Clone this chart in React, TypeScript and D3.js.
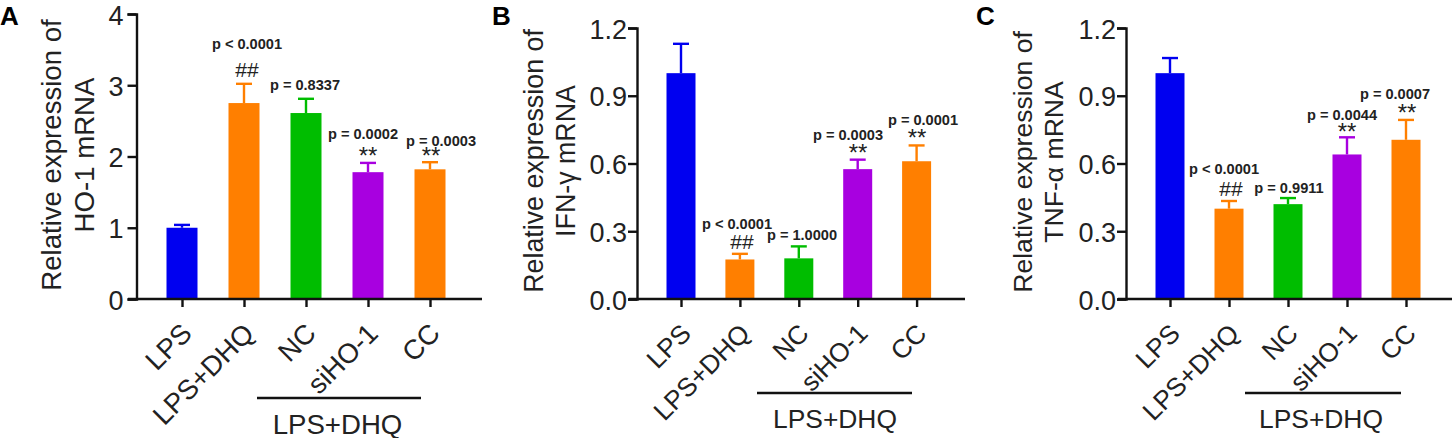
import * as d3 from "d3";
import { useEffect, useRef } from "react";

const groups = ["LPS", "LPS+DHQ", "NC", "siHO-1", "CC"];
const barColors = ["#0000f0", "#ff7f00", "#00bd00", "#a800e0", "#ff7f00"];

const hoValues = [1.0, 2.75, 2.61, 1.78, 1.82];
const hoErrTops = [1.04, 3.02, 2.81, 1.91, 1.92];
const hoTicks = [0, 1, 2, 3, 4];
const hoPvals = ["p < 0.0001", "p = 0.8337", "p = 0.0002", "p = 0.0003"];

const ifnValues = [1.0, 0.175, 0.18, 0.575, 0.61];
const ifnErrTops = [1.13, 0.2, 0.233, 0.617, 0.68];
const ifnTicks = [0, 0.3, 0.6, 0.9, 1.2];
const ifnPvals = ["p < 0.0001", "p = 1.0000", "p = 0.0003", "p = 0.0001"];

const tnfValues = [1.0, 0.4, 0.42, 0.64, 0.705];
const tnfErrTops = [1.067, 0.434, 0.447, 0.716, 0.793];
const tnfTicks = [0, 0.3, 0.6, 0.9, 1.2];
const tnfPvals = ["p < 0.0001", "p = 0.9911", "p = 0.0044", "p = 0.0007"];

const marks = ["##", "**", "**"];

const FONT = "'Liberation Sans', Arial, sans-serif";

const panels = [
  {
    letter: "A", letterX: 0, values: hoValues, tops: hoErrTops, ticks: hoTicks, yMax: 4, fmt: "d",
    title: ["Relative expression of", "HO-1 mRNA"], titleX: [61, 94], titleY: 155, titleFont: 27.6,
    axisX: 136.5, yTop: 14, xStart: 128, xEnd: 482, c0: 182, step: 62, barW: 31,
    tickPad: 4, xFont: 27.5, groupFont: 27.6,
    pvalPos: [[247, 44], [305, 85], [363, 134], [441, 141]],
    markPos: [[247, 70], [368, 152], [431, 152]],
    lineX: [257, 421], lineY: 398, groupX: 337.5, groupY: 424,
  },
  {
    letter: "B", letterX: 492, values: ifnValues, tops: ifnErrTops, ticks: ifnTicks, yMax: 1.2, fmt: ".1f",
    title: ["Relative expression of", "IFN-\u03b3 mRNA"], titleX: [543, 575], titleY: 161, titleFont: 26.8,
    axisX: 637, yTop: 28, xStart: 629, xEnd: 965, c0: 681, step: 58.9, barW: 29,
    tickPad: 1, xFont: 26.2, groupFont: 26.4,
    pvalPos: [[737, 224], [802, 235], [848, 135], [923, 120]],
    markPos: [[742, 242], [858, 149], [917, 134]],
    lineX: [757, 912], lineY: 393, groupX: 835, groupY: 419,
  },
  {
    letter: "C", letterX: 976, values: tnfValues, tops: tnfErrTops, ticks: tnfTicks, yMax: 1.2, fmt: ".1f",
    title: ["Relative expression of", "TNF-\u03b1 mRNA"], titleX: [1032, 1063], titleY: 162, titleFont: 26.6,
    axisX: 1126, yTop: 28, xStart: 1118, xEnd: 1452, c0: 1170, step: 59, barW: 29,
    tickPad: 1, xFont: 26.2, groupFont: 26.4,
    pvalPos: [[1224, 169], [1289, 188], [1342, 115], [1395, 94]],
    markPos: [[1231, 189], [1347, 128], [1407, 109]],
    lineX: [1245, 1401], lineY: 393, groupX: 1321, groupY: 419,
  },
];
const pvalSets = [hoPvals, ifnPvals, tnfPvals];

const Y_BOTTOM = 299;

export default function App() {
  const ref = useRef<SVGSVGElement>(null);

  useEffect(() => {
    const svg = d3.select(ref.current);
    svg.selectAll("*").remove();

    panels.forEach((p, pi) => {
      const g = svg.append("g");
      const y = d3.scaleLinear().domain([0, p.yMax]).range([Y_BOTTOM, p.yTop]);
      const x = d3
        .scalePoint<string>()
        .domain(groups)
        .range([p.c0, p.c0 + p.step * 4]);

      // bars
      g.selectAll("rect.bar")
        .data(p.values)
        .join("rect")
        .attr("class", "bar")
        .attr("x", (_, i) => (x(groups[i]) as number) - p.barW / 2)
        .attr("width", p.barW)
        .attr("y", (d) => y(d))
        .attr("height", (d) => Y_BOTTOM - y(d))
        .attr("fill", (_, i) => barColors[i]);

      // error bars, upper half only
      const err = g.selectAll("g.err").data(p.tops).join("g").attr("class", "err");
      err.append("line")
        .attr("x1", (_, i) => x(groups[i]) as number)
        .attr("x2", (_, i) => x(groups[i]) as number)
        .attr("y1", (_, i) => y(p.values[i]))
        .attr("y2", (d) => y(d))
        .attr("stroke", (_, i) => barColors[i])
        .attr("stroke-width", 2.4);
      err.append("line")
        .attr("x1", (_, i) => (x(groups[i]) as number) - 8)
        .attr("x2", (_, i) => (x(groups[i]) as number) + 8)
        .attr("y1", (d) => y(d))
        .attr("y2", (d) => y(d))
        .attr("stroke", (_, i) => barColors[i])
        .attr("stroke-width", 2.4);

      // y axis
      const yAxis = g
        .append("g")
        .attr("transform", `translate(${p.axisX},0)`)
        .call(
          d3.axisLeft(y)
            .tickValues(p.ticks)
            .tickFormat(d3.format(p.fmt) as any)
            .tickSize(9)
            .tickPadding(p.tickPad)
        );
      yAxis.selectAll("path,line").attr("stroke", "#111").attr("stroke-width", 2.4);
      yAxis.selectAll("text")
        .attr("font-family", FONT)
        .attr("font-size", 27)
        .attr("dy", "0.37em")
        .attr("fill", "#222");

      // x axis
      const xAxis = g
        .append("g")
        .attr("transform", `translate(0,${Y_BOTTOM})`)
        .call(d3.axisBottom(x).tickSize(8));
      xAxis.select("path")
        .attr("d", `M${p.xStart},0H${p.xEnd}`)
        .attr("stroke", "#111")
        .attr("stroke-width", 2.4);
      xAxis.selectAll("line").attr("stroke", "#111").attr("stroke-width", 2.4);
      xAxis.selectAll("text")
        .attr("font-family", FONT)
        .attr("font-size", p.xFont)
        .attr("fill", "#222")
        .attr("text-anchor", "end")
        .attr("dy", 0)
        .attr("y", 0)
        .attr("transform", "translate(4,29) rotate(-45) translate(0,10)");

      // y title
      p.title.forEach((line, i) => {
        g.append("text")
          .attr("transform", `translate(${p.titleX[i]},${p.titleY}) rotate(-90)`)
          .attr("text-anchor", "middle")
          .attr("font-family", FONT)
          .attr("font-size", p.titleFont)
          .attr("fill", "#222")
          .text(line);
      });

      // p values and significance marks
      pvalSets[pi].forEach((txt, i) => {
        g.append("text")
          .attr("x", p.pvalPos[i][0])
          .attr("y", p.pvalPos[i][1])
          .attr("dy", "0.35em")
          .attr("text-anchor", "middle")
          .attr("font-family", FONT)
          .attr("font-weight", "bold")
          .attr("font-size", 14.6)
          .attr("fill", "#222")
          .text(txt);
      });
      marks.forEach((txt, i) => {
        g.append("text")
          .attr("x", p.markPos[i][0])
          .attr("y", p.markPos[i][1])
          .attr("dy", txt === "##" ? "0.35em" : "0.5em")
          .attr("text-anchor", "middle")
          .attr("font-family", FONT)
          .attr("font-size", txt === "##" ? 21 : 24)
          .attr("fill", "#222")
          .text(txt);
      });

      // group bracket
      g.append("line")
        .attr("x1", p.lineX[0])
        .attr("x2", p.lineX[1])
        .attr("y1", p.lineY)
        .attr("y2", p.lineY)
        .attr("stroke", "#111")
        .attr("stroke-width", 2.4);
      g.append("text")
        .attr("x", p.groupX)
        .attr("y", p.groupY)
        .attr("dy", "0.35em")
        .attr("text-anchor", "middle")
        .attr("font-family", FONT)
        .attr("font-size", p.groupFont)
        .attr("fill", "#222")
        .text("LPS+DHQ");

      // panel letter
      g.append("text")
        .attr("x", p.letterX)
        .attr("y", 25)
        .attr("font-family", FONT)
        .attr("font-weight", "bold")
        .attr("font-size", 26)
        .attr("fill", "#000")
        .text(p.letter);
    });
  }, []);

  return (
    <svg
      ref={ref}
      width={1455}
      height={438}
      style={{ position: "absolute", left: 0, top: 0, background: "#fff" }}
    />
  );
}
